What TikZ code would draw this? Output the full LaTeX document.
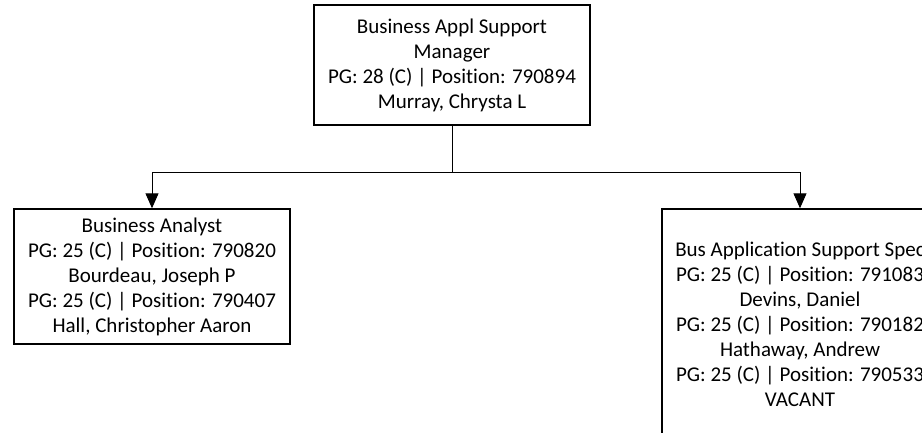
\documentclass[tikz,border=0pt]{standalone}
\usepackage{fontspec}
\setmainfont{Carlito}[Ligatures=NoCommon]
\usetikzlibrary{arrows.meta}

\tikzset{
  posbox/.style={draw, line width=1.4pt, align=center, inner sep=0pt,
    minimum width=276pt, font=\fontsize{21}{25}\selectfont},
  link/.style={line width=1pt},
  tolink/.style={link, -{Triangle[length=15pt,width=13pt]}}
}

\begin{document}
\begin{tikzpicture}[x=1pt,y=-1pt]
\useasboundingbox (0,0) rectangle (922,433);
\clip (0,0) rectangle (922,433);
% top position
\node[posbox, minimum height=120pt] (mgr) at (452,65)
  {Business Appl Support\\Manager\\PG: 28 (C) | Position: 790894\\Murray, Chrysta L};
% analysts
\node[posbox, minimum height=135pt] (ana) at (152,276.5)
  {Business Analyst\\PG: 25 (C) | Position: 790820\\Bourdeau, Joseph P\\PG: 25 (C) | Position: 790407\\Hall, Christopher Aaron};
% specialists
\node[posbox, minimum height=230pt] (spec) at (800,324)
  {Bus Application Support Spec\\PG: 25 (C) | Position: 791083\\Devins, Daniel\\PG: 25 (C) | Position: 790182\\Hathaway, Andrew\\PG: 25 (C) | Position: 790533\\VACANT};
% connectors
\coordinate (fork) at (452,173);
\draw[link] (mgr.south) -- (fork);
\draw[tolink] (fork) -| (ana.north);
\draw[tolink] (fork) -| (spec.north);
\end{tikzpicture}
\end{document}
